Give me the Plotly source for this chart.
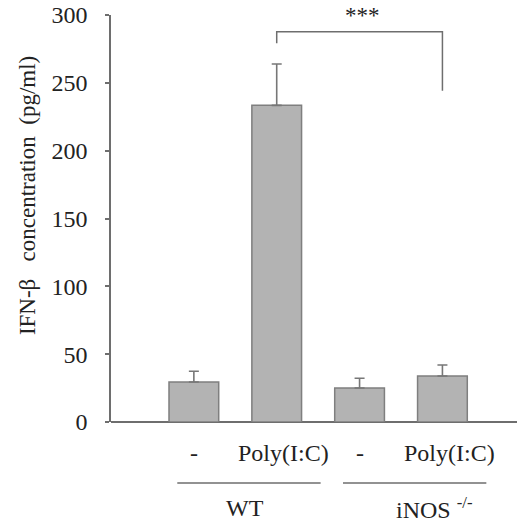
import plotly.graph_objects as go

# ---- data ----
positions = [1, 2, 3, 4]
treatments = ["-", "Poly(I:C)", "-", "Poly(I:C)"]
values = [29.5, 233.4, 25.1, 33.9]
errors = [7.9, 30.5, 7.1, 8.1]
groups = ["WT", "iNOS\u00a0<sup>-/-</sup>"]
group_members = [[1, 2], [3, 4]]
y_ticks = [0, 50, 100, 150, 200, 250, 300]
sig_pair = [2, 4]
sig_text = "***"
sig_top = 287.7
sig_left_bottom = 279.1
sig_right_bottom = 244.2

FONT = "Liberation Serif, Times New Roman, serif"
TXT = "#222222"
AX = "#6e6e6e"

fig = go.Figure()
fig.add_trace(go.Bar(
    x=positions, y=values, width=0.6,
    marker=dict(color="#b3b3b3", line=dict(color="#7f7f7f", width=1.5)),
    error_y=dict(type="data", array=errors, arrayminus=[0] * 4, symmetric=False,
                 color="#777777", thickness=1.6, width=5),
    showlegend=False,
))

plot_h = 523 - 15 - 101.3

# treatment labels
for p, t in zip(positions, treatments):
    fig.add_annotation(x=p, y=0, xref="x", yref="paper", text=t, showarrow=False,
                       xshift=(7 if t != "-" else 0), yshift=-31, yanchor="middle",
                       font=dict(family=FONT, size=24, color=TXT))

# group lines and labels
for i, (g, mem) in enumerate(zip(groups, group_members)):
    x0 = mem[0] - 0.2
    x1 = mem[-1] + 0.53
    fig.add_shape(type="line", xref="x", yref="paper", x0=x0, x1=x1,
                  y0=-61 / plot_h, y1=-61 / plot_h,
                  line=dict(color=AX, width=1.5))
    fig.add_annotation(x=(x0 + x1) / 2, y=0, xref="x", yref="paper", text=g,
                       showarrow=False, yshift=-86, yanchor="middle",
                       xshift=(-4 if i == 0 else 20),
                       font=dict(family=FONT, size=24, color=TXT))

# significance bracket
fig.add_shape(type="path", xref="x", yref="y",
              path=f"M {sig_pair[0]},{sig_left_bottom} L {sig_pair[0]},{sig_top} "
                   f"L {sig_pair[1]},{sig_top} L {sig_pair[1]},{sig_right_bottom}",
              line=dict(color=AX, width=1.5))
fig.add_annotation(x=(sig_pair[0] + sig_pair[1]) / 2, y=sig_top, xref="x", yref="y",
                   text=sig_text, showarrow=False, yanchor="bottom", yshift=2,
                   xshift=3,
                   font=dict(family=FONT, size=23, color=TXT))

# y title
fig.add_annotation(x=0, y=0.555, xref="paper", yref="paper", xshift=-84,
                   text="IFN-β\u00a0\u00a0\u00a0concentration\u00a0\u00a0(pg/ml)",
                   textangle=-90, showarrow=False, xanchor="center", yanchor="middle",
                   font=dict(family=FONT, size=23, color=TXT))

fig.update_layout(
    width=517, height=523,
    margin=dict(l=111, r=0, t=15, b=101.3),
    paper_bgcolor="white", plot_bgcolor="white",
    xaxis=dict(range=[0, 4.9], showticklabels=False, ticks="", showgrid=False,
               zeroline=False, showline=False, fixedrange=True),
    yaxis=dict(range=[0, 300], tickvals=y_ticks, ticks="outside", ticklen=4,
               tickwidth=1.5, tickcolor=AX, showline=True, linecolor=AX, linewidth=1.5,
               showgrid=False, zeroline=True, zerolinecolor=AX, zerolinewidth=1.5,
               ticklabelstandoff=13,
               tickfont=dict(family=FONT, size=24, color=TXT)),
)

fig.write_html("out.html", config={"displayModeBar": False},
               post_script="document.body.style.margin='0px';document.body.style.overflow='hidden';")
